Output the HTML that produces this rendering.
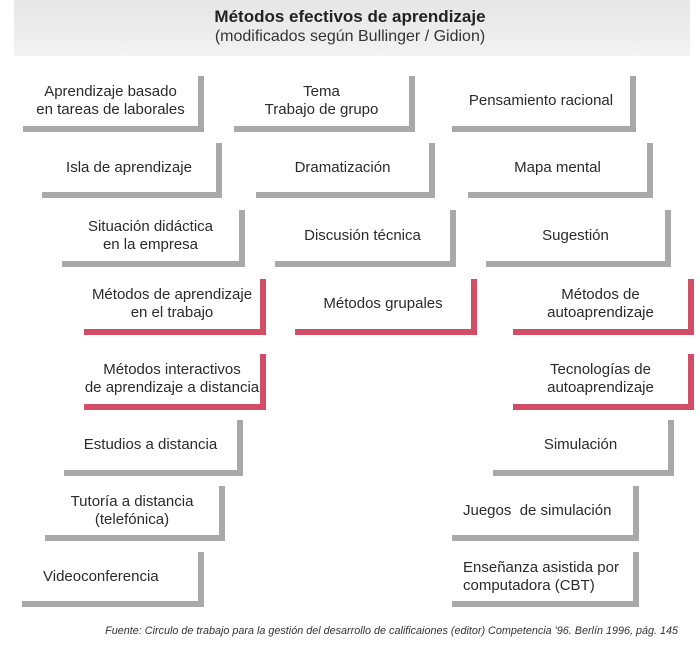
<!DOCTYPE html>
<html><head><meta charset="utf-8"><style>
body{margin:0;width:700px;height:652px;background:#fff;position:relative;overflow:hidden;font-family:"Liberation Sans",sans-serif;color:#2a2a2a}
.hdr{position:absolute;left:14px;top:0;width:676px;height:56px;background:linear-gradient(#e6e6e6,#eeeeee 70%,#f4f4f4)}
.t1{position:absolute;left:0;width:700px;top:7px;text-align:center;font-weight:bold;font-size:17px;color:#222}
.t2{position:absolute;left:0;width:700px;top:28px;text-align:center;font-size:16px;color:#333}
.b{position:absolute;box-sizing:border-box;border-right:6px solid #a9a9a9;border-bottom:6px solid #a9a9a9;display:flex;align-items:center;justify-content:center;text-align:center;font-size:15px;line-height:18px}
.r{border-color:#d24d65}
.l{justify-content:flex-start;text-align:left;padding-left:11px}
.f{position:absolute;right:22px;top:625px;font-style:italic;font-size:10.8px;color:#333}
</style></head><body>
<div class="hdr"></div>
<div class="t1">Métodos efectivos de aprendizaje</div>
<div class="t2">(modificados según Bullinger / Gidion)</div>

<div class="b" style="left:23px;width:181px;top:76px;height:56px">Aprendizaje basado<br>en tareas de laborales</div>
<div class="b" style="left:234px;width:181px;top:76px;height:56px">Tema<br>Trabajo de grupo</div>
<div class="b" style="left:452px;width:184px;top:76px;height:56px">Pensamiento racional</div>

<div class="b" style="left:42px;width:180px;top:143px;height:55px">Isla de aprendizaje</div>
<div class="b" style="left:256px;width:179px;top:143px;height:55px">Dramatización</div>
<div class="b" style="left:468px;width:185px;top:143px;height:55px">Mapa mental</div>

<div class="b" style="left:62px;width:183px;top:210px;height:57px">Situación didáctica<br>en la empresa</div>
<div class="b" style="left:275px;width:181px;top:210px;height:57px">Discusión técnica</div>
<div class="b" style="left:486px;width:185px;top:210px;height:57px">Sugestión</div>

<div class="b r" style="left:84px;width:182px;top:279px;height:56px">Métodos de aprendizaje<br>en el trabajo</div>
<div class="b r" style="left:295px;width:182px;top:279px;height:56px">Métodos grupales</div>
<div class="b r" style="left:513px;width:181px;top:279px;height:56px">Métodos de<br>autoaprendizaje</div>

<div class="b r" style="left:84px;width:182px;top:354px;height:56px">Métodos interactivos<br>de aprendizaje a distancia</div>
<div class="b r" style="left:513px;width:181px;top:354px;height:56px">Tecnologías de<br>autoaprendizaje</div>

<div class="b" style="left:64px;width:179px;top:420px;height:56px">Estudios a distancia</div>
<div class="b" style="left:493px;width:181px;top:420px;height:56px">Simulación</div>

<div class="b" style="left:45px;width:180px;top:486px;height:55px">Tutoría a distancia<br>(telefónica)</div>
<div class="b l" style="left:452px;width:187px;top:486px;height:55px">Juegos&nbsp; de simulación</div>

<div class="b l" style="left:22px;width:182px;top:552px;height:55px;padding-left:21px">Videoconferencia</div>
<div class="b l" style="left:452px;width:187px;top:552px;height:55px">Enseñanza asistida por<br>computadora (CBT)</div>

<div class="f">Fuente: Circulo de trabajo para la gestión del desarrollo de calificaiones (editor) Competencia '96. Berlín 1996, pág. 145</div>
</body></html>
